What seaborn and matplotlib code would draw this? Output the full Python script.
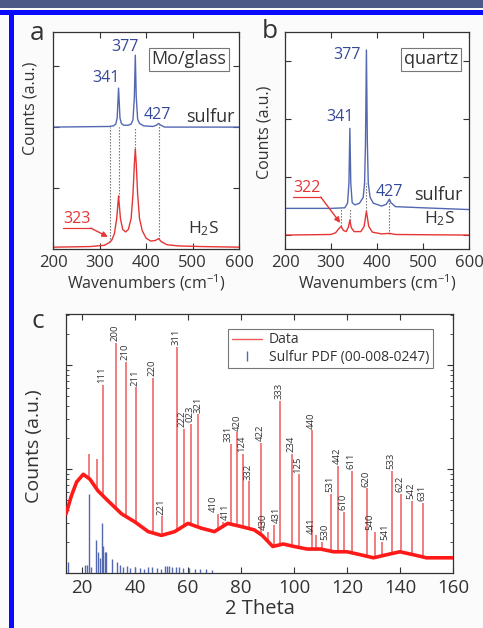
import numpy as np
import matplotlib
matplotlib.use("Agg")
import matplotlib.pyplot as plt
import seaborn as sns
from matplotlib.lines import Line2D
from matplotlib.patches import Rectangle

# Raman spectra, panel a (Mo/glass)
wn_a_sulfur = [200, 320, 330, 335, 338, 341, 344, 347, 352, 362, 368, 372, 375, 377, 379, 382, 386, 395, 415, 422, 427, 432, 440, 600]
cnt_a_sulfur = [2.0, 2.01, 2.02, 2.05, 2.15, 2.64, 2.15, 2.06, 2.03, 2.03, 2.05, 2.12, 2.5, 3.18, 2.5, 2.13, 2.06, 2.02, 2.01, 2.03, 2.06, 2.03, 2.0, 2.0]
wn_a_h2s = [200, 280, 310, 320, 326, 332, 337, 341, 345, 350, 356, 362, 368, 372, 375, 377, 379, 382, 386, 392, 400, 410, 420, 427, 433, 445, 470, 520, 600]
cnt_a_h2s = [0.03, 0.04, 0.06, 0.1, 0.14, 0.25, 0.5, 0.87, 0.5, 0.32, 0.28, 0.32, 0.5, 0.9, 1.4, 1.64, 1.4, 0.9, 0.5, 0.3, 0.18, 0.13, 0.14, 0.17, 0.12, 0.07, 0.05, 0.04, 0.03]
guide_a = [323, 341, 377, 427]
guide_a_low = [0.12, 0.85, 1.6, 0.17]
guide_a_high = [2.0, 2.0, 2.0, 2.05]

# Raman spectra, panel b (quartz)
wn_b_sulfur = [200, 300, 330, 336, 339, 341, 343, 346, 352, 362, 370, 373, 375, 377, 379, 381, 385, 392, 410, 420, 424, 427, 430, 440, 500, 600]
cnt_b_sulfur = [0.46, 0.46, 0.47, 0.55, 0.9, 1.84, 0.9, 0.56, 0.52, 0.55, 0.65, 0.9, 1.6, 3.19, 1.6, 0.9, 0.65, 0.55, 0.5, 0.53, 0.58, 0.62, 0.56, 0.49, 0.47, 0.44]
wn_b_h2s = [200, 300, 310, 316, 322, 327, 333, 338, 341, 344, 350, 365, 372, 377, 382, 390, 410, 427, 440, 600]
cnt_b_h2s = [0.0, 0.01, 0.04, 0.1, 0.15, 0.08, 0.06, 0.14, 0.26, 0.13, 0.06, 0.06, 0.15, 0.41, 0.15, 0.05, 0.02, 0.03, 0.01, 0.0]
guide_b = [322, 341, 377, 427]
guide_b_low = [0.15, 0.26, 0.41, 0.02]
guide_b_high = [0.45, 0.45, 0.9, 0.62]

# XRD, panel c
bg_tth = [14, 16, 18, 20.5, 23, 26, 30, 35, 40, 45, 50, 55, 60, 65, 70, 75, 80, 85, 88, 92, 96, 100, 105, 110, 115, 120, 125, 130, 135, 140, 145, 150, 155, 160]
bg_cnt = [37, 55, 75, 89, 80, 62, 49, 37, 31, 25, 23, 25, 30, 27, 25, 30, 28, 26, 23, 18, 19, 18, 17, 17, 16, 16, 15, 14, 15, 16, 15, 14, 14, 14]
peak_tth = [22.7, 25.7, 28.0, 32.9, 36.6, 40.4, 46.8, 50.2, 55.9, 58.5, 61.2, 63.8, 71.4, 73.2, 76.3, 78.5, 80.8, 83.1, 87.6, 90.2, 92.5, 94.8, 99.3, 101.9, 106.8, 108.3, 110.6, 114.0, 116.6, 118.9, 121.9, 127.6, 130.6, 133.2, 137.0, 140.4, 144.6, 148.7]
peak_cnt = [140, 125, 640, 1630, 1070, 610, 750, 35, 1500, 245, 270, 335, 37, 31, 175, 225, 140, 76, 180, 25, 29, 455, 140, 89, 235, 23, 20, 58, 107, 39, 96, 65, 25, 20, 96, 58, 49, 47]
peak_hkl = ["", "", "111", "200", "210", "211", "220", "221", "311", "222", "023", "321", "410", "411", "331", "420", "124", "332", "422", "430", "431", "333", "234", "125", "440", "441", "530", "531", "442", "610", "611", "620", "540", "541", "533", "622", "542", "631"]
pdf_tth = [14.8, 21.2, 21.9, 22.7, 23.4, 25.3, 26.1, 26.8, 27.6, 28.0, 28.7, 29.1, 31.4, 33.2, 34.3, 35.6, 37.0, 38.3, 40.2, 42.0, 43.5, 45.0, 46.6, 48.2, 50.0, 51.2, 52.0, 53.0, 54.1, 55.5, 56.8, 58.0, 60.5, 62.8, 64.5, 66.8, 69.0]
pdf_cnt = [12.8, 12, 12, 57, 11.5, 21, 16, 14, 30.5, 18, 16, 16, 13.7, 12.8, 12, 11.5, 11.8, 11.2, 11.5, 11.2, 11.0, 11.3, 11.4, 11.2, 11.0, 11.8, 11.6, 11.6, 11.4, 11.5, 11.3, 11.2, 11.1, 11.0, 10.9, 11.0, 10.7]

# labels of close pairs get pushed apart a little
label_shift = {"222": -0.5, "321": 0.5, "410": -1.3, "411": 1.3, "331": -0.6, "420": 0.6,
               "430": -1.4, "431": 1.4, "441": -1.4, "530": 1.4, "540": -1.4, "541": 1.4}

BLUE = "#5468b2"
BLUE_TXT = "#34489a"
RED = "#e63535"
GREY = "#333333"

sns.set_style("ticks")
plt.rcParams["font.family"] = ["Open Sans", "DejaVu Sans"]
plt.rcParams["mathtext.fontset"] = "custom"
plt.rcParams["mathtext.rm"] = "Open Sans"
plt.rcParams["mathtext.it"] = "Open Sans:italic"
plt.rcParams["text.color"] = GREY
plt.rcParams["axes.labelcolor"] = GREY
plt.rcParams["xtick.color"] = GREY
plt.rcParams["ytick.color"] = GREY

fig = plt.figure(figsize=(4.83, 6.28), dpi=100)
fig.patch.set_facecolor("#fbfbfb")
# page frame
fig.add_artist(Rectangle((0, 1 - 8 / 628), 1, 8 / 628, transform=fig.transFigure, color="#4b5a86", lw=0))
fig.add_artist(Rectangle((0, 1 - 15 / 628), 1, 5 / 628, transform=fig.transFigure, color="#0a0aff", lw=0))
fig.add_artist(Rectangle((9 / 483, 0), 5 / 483, 1 - 10 / 628, transform=fig.transFigure, color="#0a0aff", lw=0))

ax_a = fig.add_axes([53 / 483, 1 - 249 / 628, 186 / 483, 217 / 628])
ax_b = fig.add_axes([285 / 483, 1 - 249 / 628, 184 / 483, 217 / 628])
ax_c = fig.add_axes([66 / 483, 1 - 573 / 628, 387 / 483, 259 / 628])


def style_axes(ax, fs):
    ax.tick_params(direction="in", top=True, right=True, length=4, width=0.8, labelsize=fs, pad=4)
    ax.tick_params(which="minor", direction="in", top=True, right=True, length=2, width=0.6)
    for sp in ax.spines.values():
        sp.set_color(GREY)
        sp.set_linewidth(0.9)


def underline_arrow(ax, label, xy_text, xy_tip):
    t = ax.text(*xy_text, label, color=RED, fontsize=11.5, ha="center", va="center")
    fig.canvas.draw()
    bb = t.get_window_extent()
    inv = ax.transData.inverted()
    x0, y0 = inv.transform((bb.x0, bb.y0 - 1))
    x1, _ = inv.transform((bb.x1, bb.y0 - 1))
    ax.plot([x0, x1], [y0, y0], color=RED, lw=0.9)
    ax.annotate("", xy=xy_tip, xytext=(x1, y0),
                arrowprops=dict(arrowstyle="-|>", color=RED, lw=1.0, mutation_scale=8, shrinkA=0, shrinkB=0))


# panel a
ax = ax_a
ax.vlines(guide_a, guide_a_low, guide_a_high, colors="#666666", linestyles=(0, (1.2, 1.5)), lw=0.8)
sns.lineplot(x=wn_a_sulfur, y=cnt_a_sulfur, ax=ax, color=BLUE, lw=1.0, sort=False)
sns.lineplot(x=wn_a_h2s, y=cnt_a_h2s, ax=ax, color=RED, lw=1.0, sort=False)
ax.set_xlim(200, 600)
ax.set_ylim(0, 3.56)
ax.set_xticks([200, 300, 400, 500, 600])
ax.set_yticks([0, 1, 2, 3])
ax.set_yticklabels([])
ax.set_xlabel("Wavenumbers (cm$^{-1}$)", fontsize=11.5, labelpad=1)
ax.set_ylabel("Counts (a.u.)", fontsize=11.5)
ax.yaxis.set_label_coords(-0.08, 0.65)
style_axes(ax, 12)
ax.text(355, 3.31, "377", color=BLUE_TXT, fontsize=11.5, ha="center", va="center")
ax.text(314, 2.80, "341", color=BLUE_TXT, fontsize=11.5, ha="center", va="center")
ax.text(424, 2.20, "427", color=BLUE_TXT, fontsize=11.5, ha="center", va="center")
ax.text(538, 2.16, "sulfur", fontsize=13, ha="center", va="center")
ax.text(523, 0.33, "H$_2$S", fontsize=12.5, ha="center", va="center")
ax.text(492, 3.11, "Mo/glass", fontsize=13, ha="center", va="center",
        bbox=dict(boxstyle="square,pad=0.15", fc="white", ec="#777777", lw=0.8))
underline_arrow(ax, "323", (252, 0.49), (318, 0.2))

# panel b
ax = ax_b
ax.vlines(guide_b, guide_b_low, guide_b_high, colors="#666666", linestyles=(0, (1.2, 1.5)), lw=0.8)
sns.lineplot(x=wn_b_sulfur, y=cnt_b_sulfur, ax=ax, color=BLUE, lw=1.0, sort=False)
sns.lineplot(x=wn_b_h2s, y=cnt_b_h2s, ax=ax, color=RED, lw=1.0, sort=False)
ax.set_xlim(200, 600)
ax.set_ylim(-0.24, 3.5)
ax.set_xticks([200, 300, 400, 500, 600])
ax.set_yticks([0, 1, 2, 3])
ax.set_yticklabels([])
ax.set_xlabel("Wavenumbers (cm$^{-1}$)", fontsize=11.5, labelpad=1)
ax.set_ylabel("Counts (a.u.)", fontsize=11.5)
ax.yaxis.set_label_coords(-0.07, 0.54)
style_axes(ax, 12)
ax.text(335, 3.10, "377", color=BLUE_TXT, fontsize=11.5, ha="center", va="center")
ax.text(320, 2.03, "341", color=BLUE_TXT, fontsize=11.5, ha="center", va="center")
ax.text(426, 0.74, "427", color=BLUE_TXT, fontsize=11.5, ha="center", va="center")
ax.text(533, 0.69, "sulfur", fontsize=13, ha="center", va="center")
ax.text(535, 0.28, "H$_2$S", fontsize=12.5, ha="center", va="center")
ax.text(517, 3.03, "quartz", fontsize=13, ha="center", va="center",
        bbox=dict(boxstyle="square,pad=0.15", fc="white", ec="#777777", lw=0.8))
underline_arrow(ax, "322", (248, 0.81), (320, 0.21))

# panel c
ax = ax_c
ax.set_yscale("log")
ax.set_xlim(14, 160)
ax.set_ylim(10, 3100)
base = np.interp(peak_tth, bg_tth, bg_cnt)
ax.vlines(peak_tth, base, peak_cnt, colors="#f05a5a", lw=1.1, zorder=2)
sns.lineplot(x=bg_tth, y=bg_cnt, ax=ax, color="#ff1a1a", lw=2.6, sort=False, zorder=3)
ax.vlines(pdf_tth, 10, pdf_cnt, colors=BLUE, lw=1.0, zorder=4)
for x, y, s in zip(peak_tth, peak_cnt, peak_hkl):
    if s:
        ax.text(x - 0.4 + label_shift.get(s, 0), y * 1.04, s, rotation=90, fontsize=6.8,
                ha="center", va="bottom", color=GREY)
ax.set_xticks(range(20, 161, 20))
ax.set_yticks([100, 1000])
ax.yaxis.set_major_formatter(plt.NullFormatter())
ax.yaxis.set_minor_formatter(plt.NullFormatter())
ax.set_xlabel("2 Theta", fontsize=14.5, labelpad=2)
ax.set_ylabel("Counts (a.u.)", fontsize=14)
ax.yaxis.set_label_coords(-0.06, 0.49)
style_axes(ax, 13.5)
handles = [Line2D([], [], color="#f05a5a", lw=1.0),
           Line2D([], [], color=BLUE, marker="|", linestyle="None", markersize=7)]
leg = ax.legend(handles, ["Data", "Sulfur PDF (00-008-0247)"], loc="upper right",
                bbox_to_anchor=(0.948, 0.942), fontsize=10, frameon=True, fancybox=False,
                edgecolor="#777777", framealpha=1, handlelength=2.2, borderpad=0.25,
                labelspacing=0.15, handletextpad=0.5, borderaxespad=0)
leg.get_frame().set_linewidth(0.8)

fig.text(37 / 483, 1 - 33 / 628, "a", fontsize=19, ha="center", va="center")
fig.text(270 / 483, 1 - 32 / 628, "b", fontsize=19, ha="center", va="center")
fig.text(38 / 483, 1 - 321 / 628, "c", fontsize=19, ha="center", va="center")

fig.savefig("out.png", dpi=100, facecolor=fig.get_facecolor())
